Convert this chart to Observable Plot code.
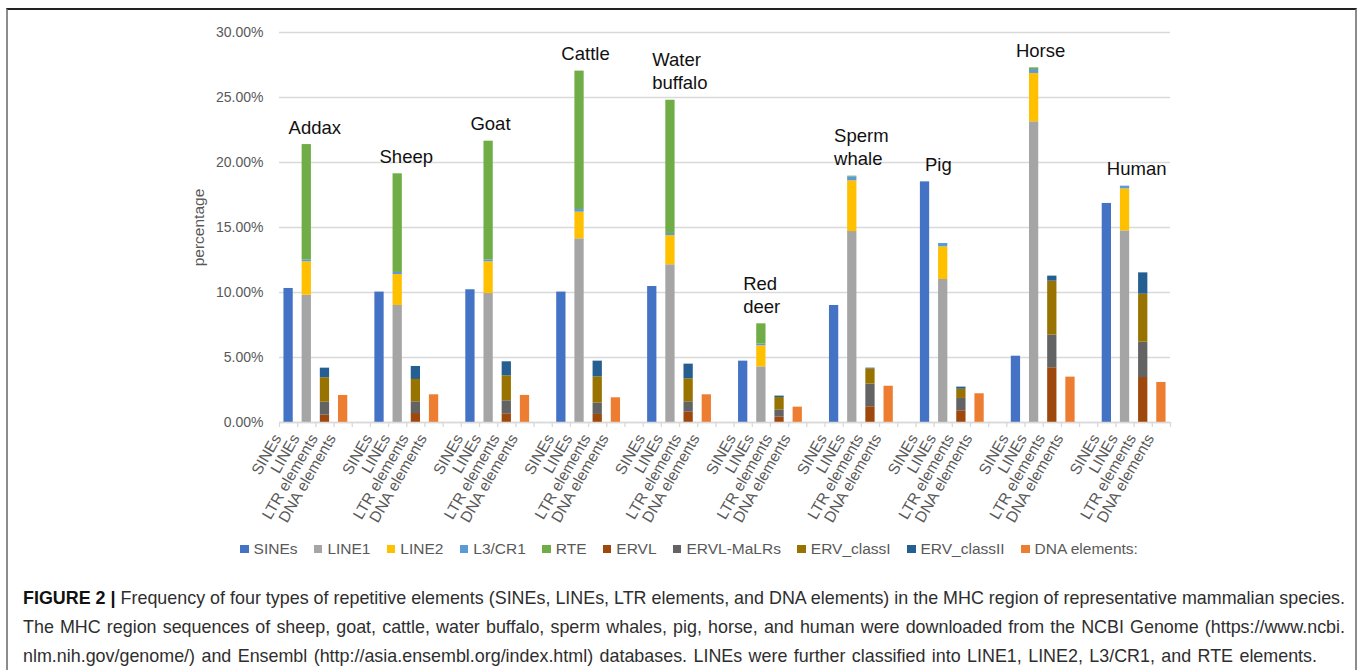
<!DOCTYPE html>
<html>
<head>
<meta charset="utf-8">
<script src="https://cdn.jsdelivr.net/npm/d3@7"></script>
<script src="https://cdn.jsdelivr.net/npm/@observablehq/plot@0.6"></script>
<style>
  body { margin: 0; background: #fff; font-family: "Liberation Sans", Arial, sans-serif; }
  #frame { position: absolute; left: 6px; top: 8px; width: 1347px; height: 700px;
           border-top: 2px solid #222; border-left: 2px solid #8c8c8c; border-right: 2px solid #8c8c8c; }
  #chart { position: absolute; left: 0; top: 0; }
  #legend { position: absolute; left: 0; width: 1378px; top: 540px; height: 18px;
            display: flex; justify-content: center; align-items: center;
            font-size: 15.5px; color: #595959; white-space: nowrap; }
  #legend .item { display: flex; align-items: center; margin: 0 8.2px; }
  #legend .sw { width: 8.5px; height: 8.5px; margin-right: 5px; }
  #caption { position: absolute; left: 23px; width: 1322px; top: 584px; line-height: 29px; color: #2e2e2e; }
  #caption .l { white-space: nowrap; }
  #caption b { color: #111; }
</style>
</head>
<body>
<div id="frame"></div>
<div id="chart"></div>
<div id="legend"></div>
<div id="caption">
  <div class="l"><span id="c1"><b>FIGURE 2 |</b> Frequency of four types of repetitive elements (SINEs, LINEs, LTR elements, and DNA elements) in the MHC region of representative mammalian species.</span></div>
  <div class="l"><span id="c2">The MHC region sequences of sheep, goat, cattle, water buffalo, sperm whales, pig, horse, and human were downloaded from the NCBI Genome (https://www.ncbi.</span></div>
  <div class="l"><span id="c3">nlm.nih.gov/genome/) and Ensembl (http://asia.ensembl.org/index.html) databases. LINEs were further classified into LINE1, LINE2, L3/CR1, and RTE elements.</span></div>
</div>
<script>
// ---------- data ----------
const species = ["Addax", "Sheep", "Goat", "Cattle", "Water buffalo", "Red deer", "Sperm whale", "Pig", "Horse", "Human"];
const speciesLabels = ["Addax", "Sheep", "Goat", "Cattle", "Water\nbuffalo", "Red\ndeer", "Sperm\nwhale", "Pig", "Horse", "Human"];
const categories = ["SINEs", "LINEs", "LTR elements", "DNA elements"];
const components = ["SINEs", "LINE1", "LINE2", "L3/CR1", "RTE", "ERVL", "ERVL-MaLRs", "ERV_classI", "ERV_classII", "DNA elements:"];
const componentColors = ["#4472C4", "#A5A5A5", "#FFC000", "#5B9BD5", "#70AD47", "#9E480E", "#636363", "#997300", "#255E91", "#ED7D31"];
const yTicks = [0, 5, 10, 15, 20, 25, 30];

// percentages
const sines      = [10.31, 10.03, 10.21, 10.03, 10.46, 4.72, 9.00, 18.51, 5.10, 16.85];
const line1      = [9.79, 9.00, 9.92, 14.13, 12.13, 4.28, 14.69, 11.00, 23.13, 14.74];
const line2      = [2.57, 2.38, 2.44, 2.05, 2.25, 1.62, 3.90, 2.51, 3.72, 3.23];
const l3cr1      = [0.15, 0.16, 0.15, 0.20, 0.16, 0.13, 0.31, 0.26, 0.30, 0.21];
const rte        = [8.87, 7.59, 9.13, 10.65, 10.25, 1.56, 0.05, 0.00, 0.13, 0.00];
const ervl       = [0.56, 0.69, 0.67, 0.62, 0.79, 0.41, 1.21, 0.90, 4.21, 3.46];
const ervlMalr   = [1.00, 0.90, 1.00, 0.87, 0.80, 0.56, 1.74, 0.95, 2.51, 2.72];
const ervClassI  = [1.88, 1.72, 1.92, 2.02, 1.77, 0.95, 1.18, 0.71, 4.15, 3.69];
const ervClassII = [0.74, 1.00, 1.08, 1.21, 1.13, 0.11, 0.05, 0.16, 0.39, 1.64];
const dnaElems   = [2.08, 2.13, 2.08, 1.90, 2.13, 1.18, 2.79, 2.21, 3.49, 3.08];

// ---------- table ----------
const groups = {
  "SINEs": [["SINEs", sines]],
  "LINEs": [["LINE1", line1], ["LINE2", line2], ["L3/CR1", l3cr1], ["RTE", rte]],
  "LTR elements": [["ERVL", ervl], ["ERVL-MaLRs", ervlMalr], ["ERV_classI", ervClassI], ["ERV_classII", ervClassII]],
  "DNA elements": [["DNA elements:", dnaElems]]
};
const rows = [];
const slotKeys = [];
species.forEach((s, i) => {
  categories.forEach(c => {
    slotKeys.push(s + "|" + c);
    groups[c].forEach(([comp, arr]) => rows.push({key: s + "|" + c, comp, v: arr[i]}));
  });
  if (i < species.length - 1) slotKeys.push("gap|" + i);
});
const barKeys = slotKeys.filter(k => !k.startsWith("gap"));
const totals = species.map((s, i) => Math.max(
  sines[i], line1[i] + line2[i] + l3cr1[i] + rte[i],
  ervl[i] + ervlMalr[i] + ervClassI[i] + ervClassII[i], dnaElems[i]));

// ---------- chart ----------
const W = 1358, H = 530, ML = 279, MR = 188, MT = 32, MB = 108;
const step = (W - ML - MR) / slotKeys.length;
const grid = "#d9d9d9";

const chart = Plot.plot({
  width: W, height: H, marginLeft: ML, marginRight: MR, marginTop: MT, marginBottom: MB,
  style: {fontFamily: "'Liberation Sans', Arial, sans-serif", background: "transparent", overflow: "visible"},
  x: {type: "band", domain: slotKeys, paddingInner: 0.49, paddingOuter: 0.245, round: false, axis: null},
  y: {domain: [0, 30], axis: null},
  color: {domain: components, range: componentColors},
  marks: [
    Plot.gridY(yTicks, {stroke: grid, strokeOpacity: 1, strokeWidth: 1.3}),
    Plot.axisY(yTicks, {tickSize: 0, tickPadding: 16, tickFormat: d => d.toFixed(2) + "%", fontSize: 14, color: "#595959", label: null}),
    Plot.text(["percentage"], {frameAnchor: "left", text: d => d, rotate: -90, textAnchor: "middle", dx: -80, fontSize: 15.5, fill: "#595959"}),
    Plot.barY(rows, {x: "key", y: "v", fill: "comp"}),
    Plot.ruleY([0], {stroke: grid, strokeWidth: 1.3}),
    Plot.ruleX(slotKeys, {x: d => d, y1: 0, y2: 0, insetBottom: -5, dx: -step / 2, stroke: grid, strokeWidth: 1.3}),
    Plot.ruleX([slotKeys[slotKeys.length - 1]], {x: d => d, y1: 0, y2: 0, insetBottom: -5, dx: step / 2, stroke: grid, strokeWidth: 1.3}),
    Plot.axisX(barKeys, {tickSize: 0, tickRotate: -60, tickPadding: 13, dx: -11,
      tickFormat: k => k.split("|")[1], fontSize: 15.5, color: "#595959", label: null}),
    Plot.text(species, {x: s => s + "|SINEs", y: (s, i) => totals[i], text: (s, i) => speciesLabels[i],
      textAnchor: "start", lineAnchor: "bottom", dy: -11, fontSize: 18.5, lineHeight: 1.25, fill: "#111"})
  ]
});
document.getElementById("chart").appendChild(chart);

// ---------- legend ----------
const leg = document.getElementById("legend");
components.forEach((c, i) => {
  const it = document.createElement("div"); it.className = "item";
  const sw = document.createElement("div"); sw.className = "sw"; sw.style.background = componentColors[i];
  const lb = document.createElement("span"); lb.textContent = c;
  it.appendChild(sw); it.appendChild(lb); leg.appendChild(it);
});

// ---------- caption: common size that fits, then justify lines 1-2 ----------
const cap = document.getElementById("caption");
const spans = ["c1", "c2", "c3"].map(id => document.getElementById(id));
const targets = [1322, 1322, 1294];
let fs = 17;
cap.style.fontSize = fs + "px";
for (let k = 0; k < 3; k++) {
  const ratios = spans.map((s, i) => targets[i] / s.getBoundingClientRect().width);
  fs = fs * Math.min(...ratios);
  cap.style.fontSize = fs + "px";
}
[0, 1, 2].forEach(i => {
  const s = spans[i];
  const w = s.getBoundingClientRect().width;
  const nSpaces = (s.textContent.match(/ /g) || []).length;
  s.style.wordSpacing = ((targets[i] - w) / nSpaces) + "px";
});
</script>
</body>
</html>
